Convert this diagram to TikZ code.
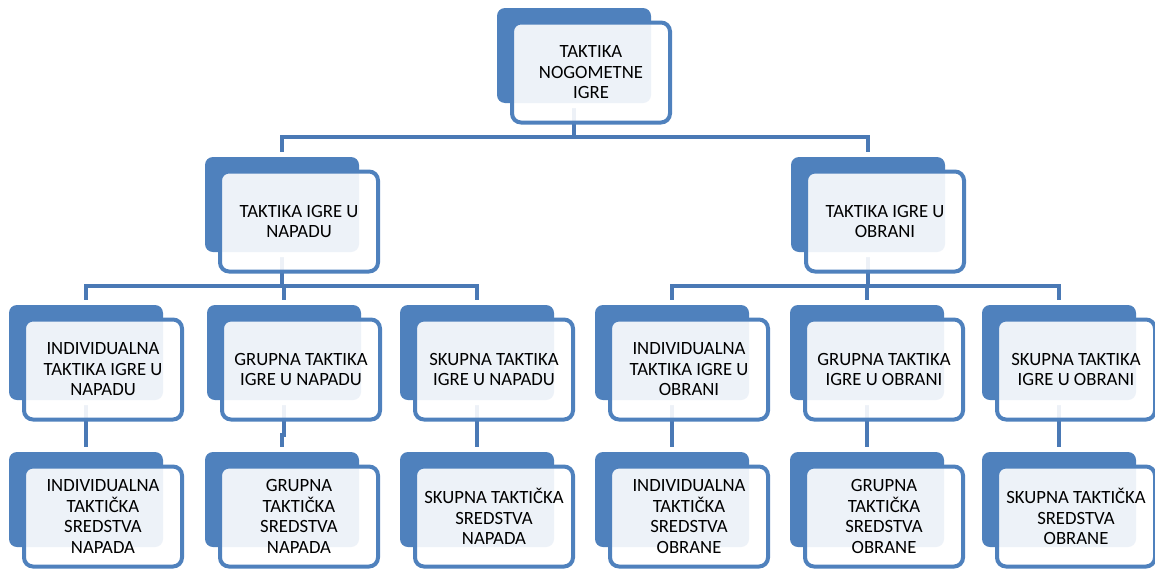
\documentclass[tikz,border=0pt]{standalone}
\usepackage{fontspec}
\setmainfont{Carlito}
\usepackage{tikz}
\usetikzlibrary{backgrounds}
\usepackage{xcolor}
\definecolor{BoxBlue}{HTML}{4F81BD}
\definecolor{LinkBlue}{HTML}{4A79B5}

\tikzset{
   backbox/.style={fill=BoxBlue, rounded corners=8pt, minimum width=154pt,
      minimum height=95pt, inner sep=0pt, outer sep=0pt,
      preaction={draw=white, line width=10pt}},
   frontbox/.style={draw=BoxBlue, line width=4pt, fill=white, fill opacity=0.9,
      text opacity=1, rounded corners=9pt, minimum width=158pt,
      minimum height=100pt, inner sep=0pt, align=center,
      font=\fontsize{18.7}{20.5}\selectfont},
   link/.style={draw=LinkBlue, line width=4pt}
}

\newcommand{\tacticbox}[4]{%
   \node[backbox] (#1 back) at ({#2+77},{#3+47.5}) {};
   \node[frontbox] (#1) at ({#2+94},{#3+64.5}) {#4};
}

\begin{document}
\begin{tikzpicture}[x=1pt,y=-1pt]
   \useasboundingbox (0,0) rectangle (1155,568);

   \tacticbox{igra}{497}{8}{TAKTIKA\\NOGOMETNE\\IGRE}

   \tacticbox{napad}{205}{157}{TAKTIKA IGRE U\\NAPADU}
   \tacticbox{obrana}{791}{157}{TAKTIKA IGRE U\\OBRANI}

   \tacticbox{in}{9}{305}{INDIVIDUALNA\\TAKTIKA IGRE U\\NAPADU}
   \tacticbox{gn}{207}{305}{GRUPNA TAKTIKA\\IGRE U NAPADU}
   \tacticbox{sn}{400}{305}{SKUPNA TAKTIKA\\IGRE U NAPADU}
   \tacticbox{io}{595}{305}{INDIVIDUALNA\\TAKTIKA IGRE U\\OBRANI}
   \tacticbox{go}{790}{305}{GRUPNA TAKTIKA\\IGRE U OBRANI}
   \tacticbox{so}{982}{305}{SKUPNA TAKTIKA\\IGRE U OBRANI}

   \tacticbox{ins}{9}{452}{INDIVIDUALNA\\TAKTIČKA\\SREDSTVA\\NAPADA}
   \tacticbox{gns}{205}{452}{GRUPNA\\TAKTIČKA\\SREDSTVA\\NAPADA}
   \tacticbox{sns}{400}{452}{SKUPNA TAKTIČKA\\SREDSTVA\\NAPADA}
   \tacticbox{ios}{595}{452}{INDIVIDUALNA\\TAKTIČKA\\SREDSTVA\\OBRANE}
   \tacticbox{gos}{790}{452}{GRUPNA\\TAKTIČKA\\SREDSTVA\\OBRANE}
   \tacticbox{sos}{982}{452}{SKUPNA TAKTIČKA\\SREDSTVA\\OBRANE}

   \begin{scope}[on background layer]
      \coordinate (bus1) at (0,137);
      \coordinate (bus2) at (0,286);
      \coordinate (bus3) at (0,435);

      \draw[link] (igra back.center) -- (igra back.center |- bus1) -| (napad back.north);
      \draw[link] (igra back.center |- bus1) -| (obrana back.north);

      \draw[link] (napad back.center) -- (napad back.center |- bus2) -| (in back.north);
      \draw[link] (napad back.center |- bus2) -| (gn back.north);
      \draw[link] (napad back.center |- bus2) -| (sn back.north);
      \draw[link] (obrana back.center) -- (obrana back.center |- bus2) -| (io back.north);
      \draw[link] (obrana back.center |- bus2) -| (go back.north);
      \draw[link] (obrana back.center |- bus2) -| (so back.north);

      \draw[link] (in back.center) -- (ins back.north);
      \draw[link] (gn back.center) -- (gn back.center |- bus3) -| (gns back.north);
      \draw[link] (sn back.center) -- (sns back.north);
      \draw[link] (io back.center) -- (ios back.north);
      \draw[link] (go back.center) -- (gos back.north);
      \draw[link] (so back.center) -- (sos back.north);
   \end{scope}
\end{tikzpicture}
\end{document}
